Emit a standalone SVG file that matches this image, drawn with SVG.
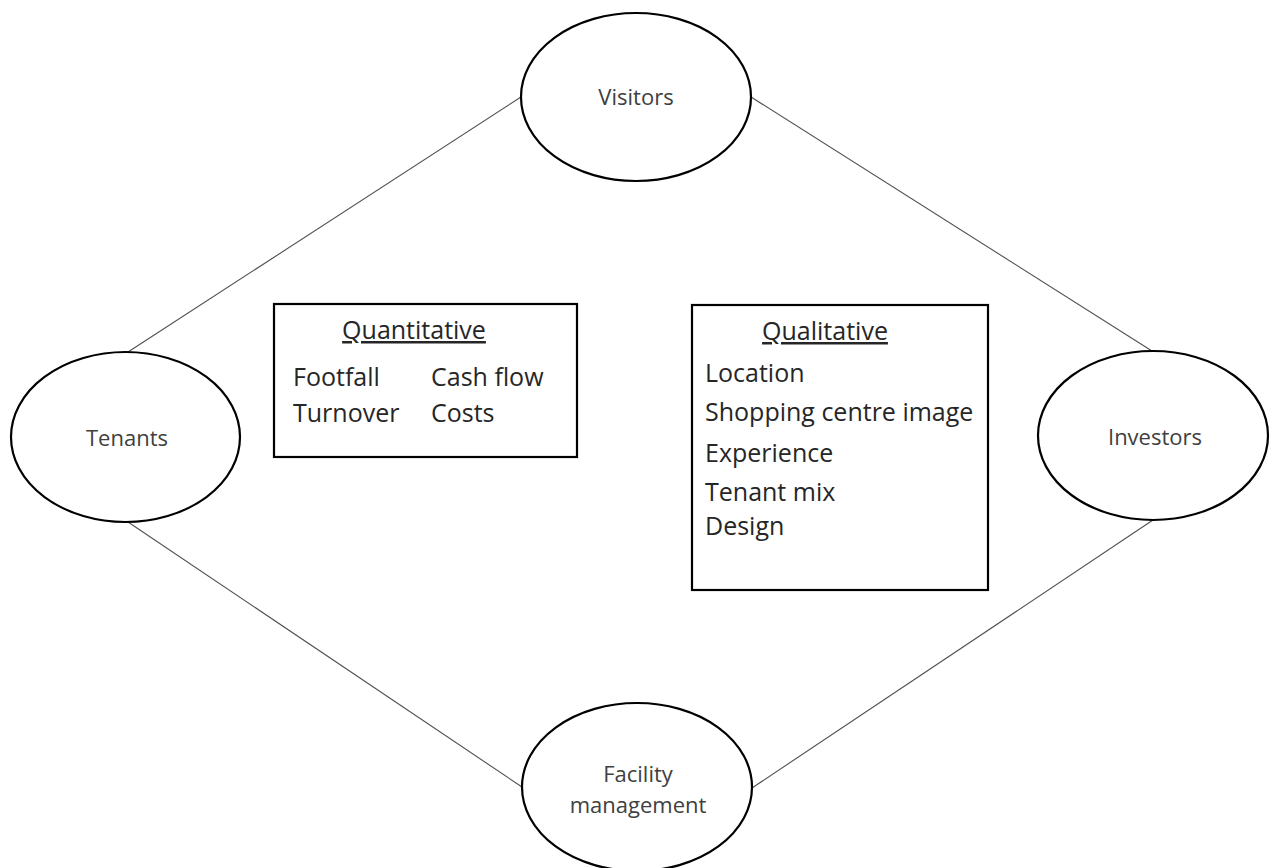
<svg xmlns="http://www.w3.org/2000/svg" width="1275" height="868" viewBox="0 0 1275 868">
  <style>
    .bg { fill: #ffffff; }
    .stakeholder { fill: #ffffff; stroke: #000000; stroke-width: 2.2; }
    .box { fill: #ffffff; stroke: #000000; stroke-width: 2.2; }
    .link { stroke: #505050; stroke-width: 1.1; fill: none; }
    .label { font-family: "Open Sans", "Liberation Sans", sans-serif; font-size: 22px; fill: #404040; text-anchor: middle; }
    .item { font-family: "Open Sans", "Liberation Sans", sans-serif; font-size: 25px; fill: #262626; }
    .heading { font-family: "Open Sans", "Liberation Sans", sans-serif; font-size: 25px; fill: #262626; text-anchor: middle; text-decoration: underline; }
  </style>
  <rect class="bg" x="0" y="0" width="1275" height="868"/>

  <!-- connectors between stakeholders -->
  <g id="connectors">
    <line class="link" x1="128" y1="352" x2="521" y2="97"/>
    <line class="link" x1="751" y1="97" x2="1152" y2="351"/>
    <line class="link" x1="128" y1="522" x2="522" y2="787"/>
    <line class="link" x1="1153" y1="520" x2="752" y2="788"/>
  </g>

  <g id="visitors">
    <ellipse class="stakeholder" cx="636" cy="97" rx="115" ry="84"/>
    <text class="label" x="636" y="105">Visitors</text>
  </g>

  <g id="tenants">
    <ellipse class="stakeholder" cx="125.5" cy="437" rx="114.5" ry="85"/>
    <text class="label" x="127" y="446">Tenants</text>
  </g>

  <g id="investors">
    <ellipse class="stakeholder" cx="1153" cy="435.5" rx="115" ry="84.5"/>
    <text class="label" x="1155" y="445">Investors</text>
  </g>

  <g id="facility-management">
    <ellipse class="stakeholder" cx="637" cy="787" rx="115" ry="84"/>
    <text class="label" x="638" y="782">Facility</text>
    <text class="label" x="638" y="813">management</text>
  </g>

  <g id="quantitative">
    <rect class="box" x="274" y="304" width="303" height="153"/>
    <text class="heading" x="414" y="339">Quantitative</text>
    <text class="item" x="293" y="386">Footfall</text>
    <text class="item" x="431" y="386">Cash flow</text>
    <text class="item" x="293" y="422">Turnover</text>
    <text class="item" x="431" y="422">Costs</text>
  </g>

  <g id="qualitative">
    <rect class="box" x="692" y="305" width="296" height="285"/>
    <text class="heading" x="825" y="340">Qualitative</text>
    <text class="item" x="705" y="382">Location</text>
    <text class="item" x="705" y="421">Shopping centre image</text>
    <text class="item" x="705" y="462">Experience</text>
    <text class="item" x="705" y="501">Tenant mix</text>
    <text class="item" x="705" y="535">Design</text>
  </g>
</svg>
